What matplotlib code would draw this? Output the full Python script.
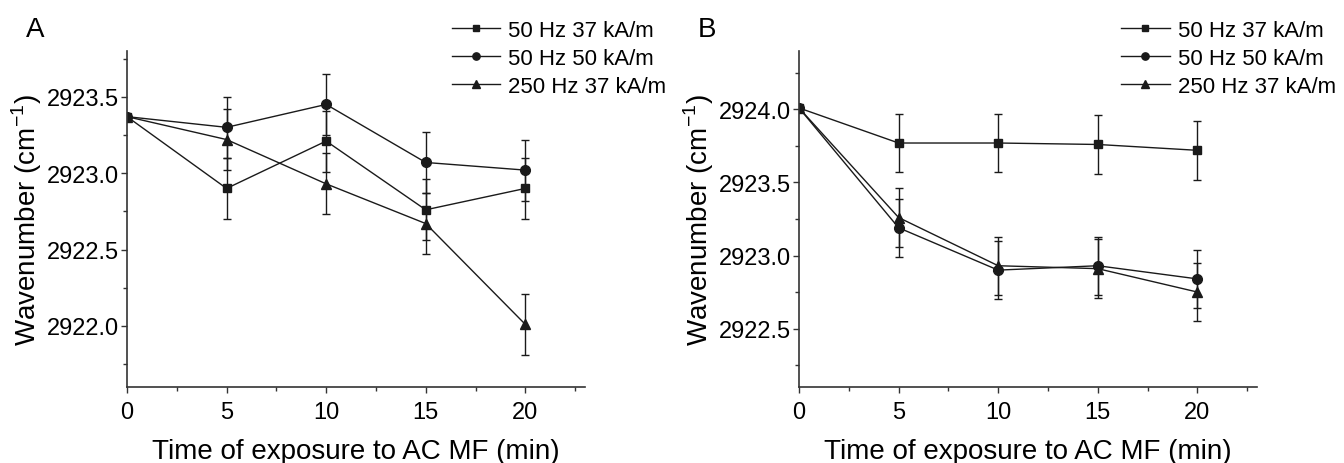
import matplotlib
matplotlib.use('Agg')
import matplotlib.pyplot as plt
from matplotlib.lines import Line2D
from matplotlib.ticker import MultipleLocator

plt.rcParams['font.family'] = ['Liberation Sans', 'DejaVu Sans']

times = [0, 5, 10, 15, 20]
labels = ['50 Hz 37 kA/m', '50 Hz 50 kA/m', '250 Hz 37 kA/m']
markers = ['s', 'o', '^']

# panel A
sq_a = [2923.37, 2922.90, 2923.21, 2922.76, 2922.90]
ci_a = [2923.37, 2923.30, 2923.45, 2923.07, 2923.02]
tr_a = [2923.37, 2923.22, 2922.93, 2922.67, 2922.01]
err_a = [0, 0.2, 0.2, 0.2, 0.2]

# panel B
sq_b = [2924.01, 2923.77, 2923.77, 2923.76, 2923.72]
ci_b = [2924.01, 2923.19, 2922.90, 2922.93, 2922.84]
tr_b = [2924.01, 2923.26, 2922.93, 2922.91, 2922.75]
err_b = [0, 0.2, 0.2, 0.2, 0.2]

col = '#1a1a1a'

fig = plt.figure(figsize=(13.44, 4.64), dpi=100)
axA = fig.add_axes([0.0945, 0.1638, 0.3408, 0.7242])
axB = fig.add_axes([0.5945, 0.1638, 0.3408, 0.7242])


def draw_panel(ax, series, err, ylim, yticks, letter, leg_x):
    handles = []
    for vals, m, lab in zip(series, markers, labels):
        ms = 6 if m == 's' else 7
        ax.errorbar(times, vals, yerr=err, color=col, marker=m, markersize=ms,
                    linewidth=1, elinewidth=1, capsize=3, capthick=1)
        handles.append(Line2D([], [], color=col, marker=m, markersize=ms * 0.75,
                              linewidth=1, label=lab))
    ax.set_xlim(0, 23)
    ax.set_ylim(*ylim)
    ax.set_xticks([0, 5, 10, 15, 20])
    ax.set_yticks(yticks)
    ax.xaxis.set_minor_locator(MultipleLocator(2.5))
    ax.yaxis.set_minor_locator(MultipleLocator(0.25))
    ax.yaxis.set_major_formatter(plt.FormatStrFormatter('%.1f'))
    for s in ['top', 'right']:
        ax.spines[s].set_visible(False)
    for s in ['left', 'bottom']:
        ax.spines[s].set_color('#333333')
        ax.spines[s].set_linewidth(1.2)
    ax.tick_params(which='major', length=4, width=1, color='#333333', labelsize=17)
    ax.tick_params(which='minor', length=3, width=1, color='#333333')
    ax.tick_params(axis='x', pad=6)
    ax.tick_params(axis='y', pad=2)
    ax.set_xlabel('Time of exposure to AC MF (min)', fontsize=20, labelpad=11)
    ax.set_ylabel('Wavenumber (cm$^{\\mathregular{-1}}$)', fontsize=20, labelpad=2)
    ax.legend(handles=handles, loc='upper left', bbox_to_anchor=(leg_x, 0.955),
              bbox_transform=fig.transFigure, frameon=False, fontsize=16,
              handlelength=2.2, handletextpad=0.35, labelspacing=0.32,
              borderpad=0, borderaxespad=0)
    bbox = ax.get_position()
    fig.text(bbox.x0 - 0.075, 0.92, letter, fontsize=20)


draw_panel(axA, [sq_a, ci_a, tr_a], err_a, (2921.6, 2923.8),
           [2922.0, 2922.5, 2923.0, 2923.5], 'A', 0.336)
draw_panel(axB, [sq_b, ci_b, tr_b], err_b, (2922.1, 2924.4),
           [2922.5, 2923.0, 2923.5, 2924.0], 'B', 0.834)

fig.savefig('out.png', dpi=100, facecolor='white')
